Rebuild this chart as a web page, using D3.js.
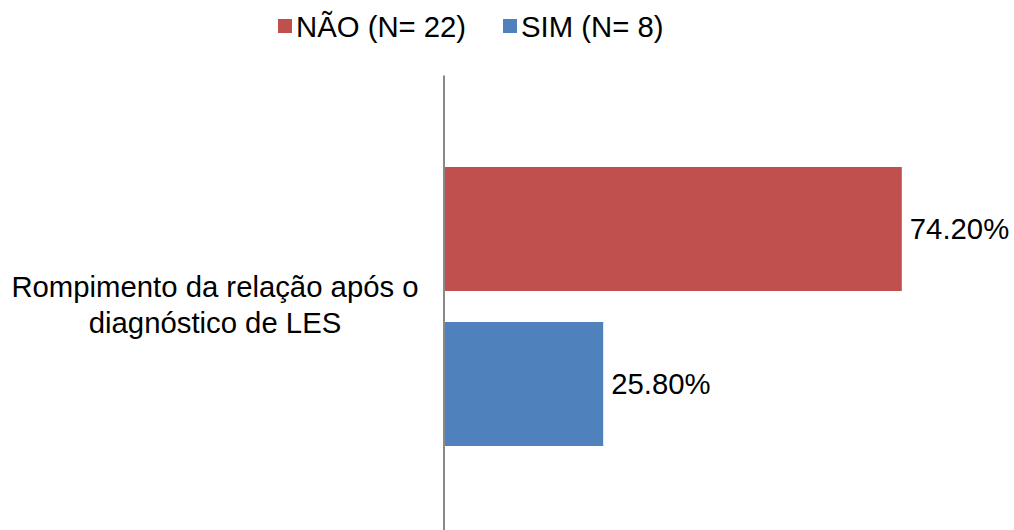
<!DOCTYPE html>
<html>
<head>
<meta charset="utf-8">
<script src="https://cdn.jsdelivr.net/npm/d3@7"></script>
<style>
  html, body { margin: 0; padding: 0; background: #fff; }
  svg { display: block; font-family: "Liberation Sans", Arial, sans-serif; }
</style>
</head>
<body>
<svg id="chart" width="1014" height="530"></svg>
<script>
const categories = ["Rompimento da relação após o diagnóstico de LES"];
const categoryLines = ["Rompimento da relação após o", "diagnóstico de LES"];
const seriesNames = ["NÃO (N= 22)", "SIM (N= 8)"];
const seriesValues = [74.2, 25.8];
const valueLabels = ["74.20%", "25.80%"];
const seriesColors = ["#C0504D", "#4F81BD"];

const svg = d3.select("#chart");
const FS = 29.3;

const x = d3.scaleLinear().domain([0, 100]).range([444, 1061]);
const y = d3.scaleBand().domain(seriesNames).range([167, 446]).paddingInner(0.2).paddingOuter(0);

// bars
svg.selectAll("rect.bar")
  .data(seriesNames)
  .join("rect")
  .attr("class", "bar")
  .attr("x", x(0))
  .attr("y", d => y(d))
  .attr("width", (d, i) => x(seriesValues[i]) - x(0))
  .attr("height", y.bandwidth())
  .attr("fill", (d, i) => seriesColors[i]);

// value labels
svg.selectAll("text.val")
  .data(seriesNames)
  .join("text")
  .attr("class", "val")
  .attr("x", (d, i) => x(seriesValues[i]) + 8)
  .attr("y", d => y(d) + y.bandwidth() / 2)
  .attr("dy", "0.35em")
  .attr("font-size", FS)
  .attr("fill", "#000")
  .text((d, i) => valueLabels[i]);

// vertical axis line
const yAxis = d3.axisLeft(d3.scaleBand().domain(categories).range([75, 538])).tickSize(0).tickFormat("");
const gAxis = svg.append("g").attr("transform", `translate(${x(0) - 0.5},0)`).call(yAxis);
gAxis.select(".domain").attr("stroke", "#898989").attr("stroke-width", 2);

// category label
const catText = svg.append("text")
  .attr("text-anchor", "middle")
  .attr("font-size", FS)
  .attr("fill", "#000");
catText.selectAll("tspan")
  .data(categoryLines)
  .join("tspan")
  .attr("x", 215)
  .attr("y", (d, i) => 297 + i * 36)
  .text(d => d);

// legend
const legendX = [278, 503];
const lg = svg.selectAll("g.leg")
  .data(seriesNames)
  .join("g")
  .attr("class", "leg")
  .attr("transform", (d, i) => `translate(${legendX[i]},19)`);
lg.append("rect")
  .attr("width", 14).attr("height", 14)
  .attr("fill", (d, i) => seriesColors[i]);
lg.append("text")
  .attr("x", 18)
  .attr("y", 18)
  .attr("font-size", FS)
  .attr("fill", "#000")
  .text(d => d);
</script>
</body>
</html>
